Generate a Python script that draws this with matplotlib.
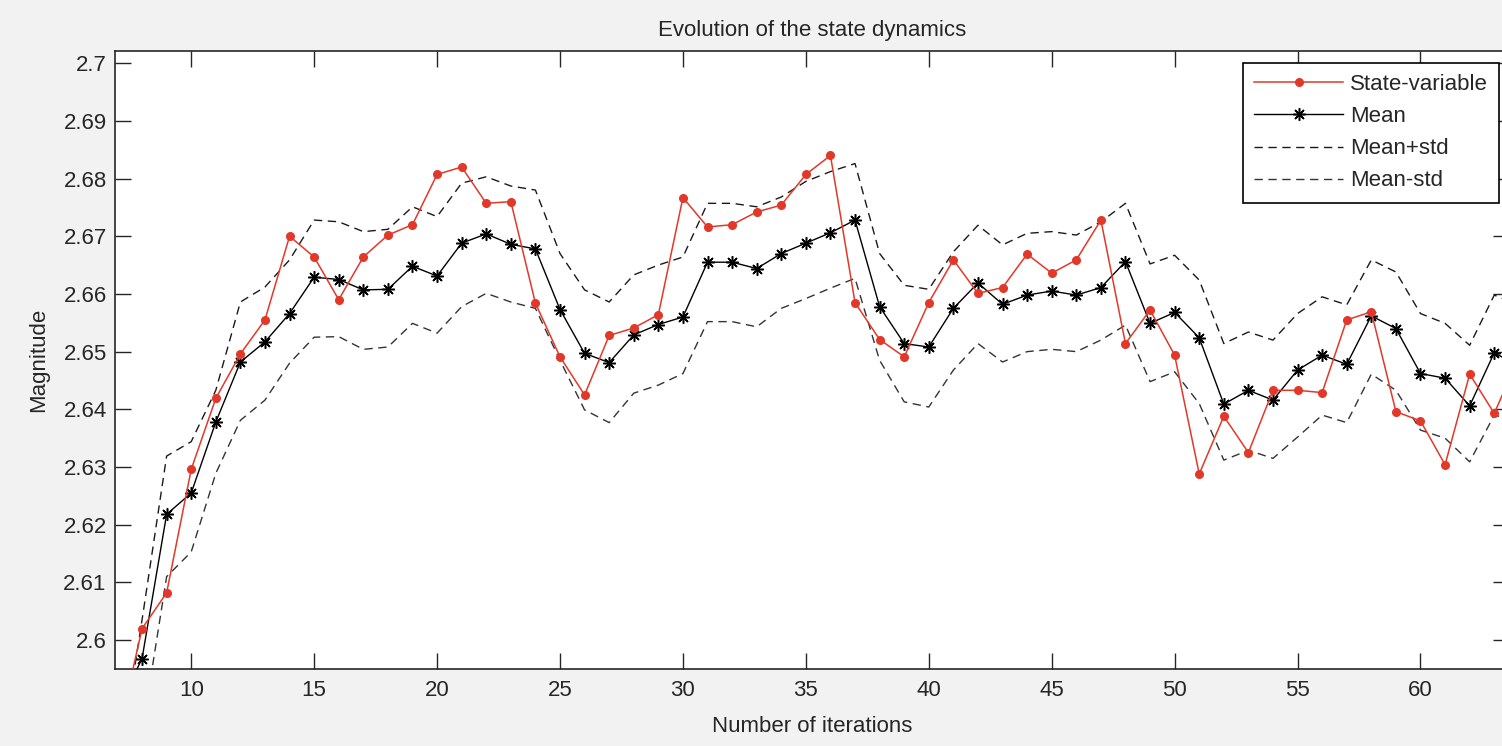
import numpy as np
import matplotlib
matplotlib.use("Agg")
import matplotlib.pyplot as plt
from matplotlib.ticker import FuncFormatter

plt.rcParams['font.family'] = ['Liberation Sans', 'DejaVu Sans']

##### data #####
iterations = list(range(7, 65))

state_var = [2.583, 2.602, 2.6082, 2.6296, 2.6419, 2.6496, 2.6555, 2.6700, 2.6664, 2.6590,
             2.6664, 2.6702, 2.6720, 2.6807, 2.6820, 2.6757, 2.6760, 2.6584, 2.6491, 2.6425,
             2.6528, 2.6541, 2.6564, 2.6767, 2.6716, 2.6720, 2.6742, 2.6754, 2.6807, 2.6840,
             2.6585, 2.6521, 2.6491, 2.6585, 2.6659, 2.6601, 2.6611, 2.6669, 2.6636, 2.6659,
             2.6728, 2.6514, 2.6572, 2.6494, 2.6288, 2.6388, 2.6325, 2.6433, 2.6433, 2.6429,
             2.6555, 2.6569, 2.6396, 2.6380, 2.6304, 2.6461, 2.6393, 2.6490]

mean_vals = [2.588, 2.5968, 2.6218, 2.6255, 2.6378, 2.6482, 2.6517, 2.6566, 2.6629, 2.6625,
             2.6607, 2.6608, 2.6648, 2.6631, 2.6688, 2.6704, 2.6686, 2.6678, 2.6573, 2.6497,
             2.6481, 2.6529, 2.6547, 2.6560, 2.6655, 2.6655, 2.6644, 2.6670, 2.6688, 2.6706,
             2.6728, 2.6578, 2.6514, 2.6508, 2.6575, 2.6619, 2.6582, 2.6598, 2.6605, 2.6598,
             2.6611, 2.6656, 2.6549, 2.6568, 2.6524, 2.6409, 2.6433, 2.6416, 2.6468, 2.6494,
             2.6478, 2.6562, 2.6540, 2.6462, 2.6454, 2.6406, 2.6498, 2.6475]

mean_plus = [2.576, 2.6035, 2.6319, 2.6344, 2.6433, 2.6586, 2.6612, 2.6659, 2.6728, 2.6725,
             2.6708, 2.6712, 2.6751, 2.6734, 2.6792, 2.6803, 2.6787, 2.6780, 2.6670, 2.6607,
             2.6586, 2.6633, 2.6650, 2.6664, 2.6757, 2.6757, 2.6751, 2.6768, 2.6795, 2.6812,
             2.6826, 2.6670, 2.6615, 2.6608, 2.6673, 2.6719, 2.6685, 2.6705, 2.6708, 2.6702,
             2.6725, 2.6757, 2.6652, 2.6667, 2.6624, 2.6514, 2.6534, 2.6520, 2.6566, 2.6595,
             2.6581, 2.6659, 2.6638, 2.6566, 2.6549, 2.6511, 2.6598, 2.6580]

mean_minus = [2.570, 2.584, 2.6110, 2.6153, 2.6289, 2.6381, 2.6416, 2.6480, 2.6525, 2.6526,
              2.6504, 2.6508, 2.6549, 2.6532, 2.6578, 2.6601, 2.6586, 2.6575, 2.6485, 2.6399,
              2.6377, 2.6428, 2.6442, 2.6462, 2.6552, 2.6552, 2.6543, 2.6575, 2.6592, 2.6610,
              2.6627, 2.6485, 2.6413, 2.6404, 2.6468, 2.6514, 2.6482, 2.6500, 2.6504, 2.6500,
              2.6520, 2.6546, 2.6448, 2.6465, 2.6410, 2.6312, 2.6329, 2.6315, 2.6352, 2.6390,
              2.6377, 2.6461, 2.6433, 2.6364, 2.6350, 2.6309, 2.6390, 2.6380]

xticks = list(range(10, 65, 5))
yticks = [2.60, 2.61, 2.62, 2.63, 2.64, 2.65, 2.66, 2.67, 2.68, 2.69, 2.70]

########################

fig = plt.figure(figsize=(15.02, 7.46), dpi=100, facecolor='#f2f2f2')
# right side of the axes runs slightly past the picture, as in the original
ax = fig.add_axes([115/1502, 77/746, (1509-115)/1502, (669-51)/746])
ax.set_facecolor('white')

ax.plot(iterations, state_var, color='#e2382a', lw=1.1, marker='o', ms=5.5,
        label='State-variable', zorder=4)
ax.plot(iterations, mean_vals, color='black', lw=1.0, marker=(8, 2, 0), ms=9,
        mew=1.1, label='Mean', zorder=3)
ax.plot(iterations, mean_plus, color='#1a1a1a', lw=1.0, dashes=(6, 4), label='Mean+std')
ax.plot(iterations, mean_minus, color='#333333', lw=1.0, dashes=(6, 4), label='Mean-std')

ax.set_xlim(6.9, 63.6)
ax.set_ylim(2.595, 2.7021)
ax.set_xticks(xticks)
ax.set_yticks(yticks)
ax.yaxis.set_major_formatter(FuncFormatter(lambda y, _: '{:g}'.format(round(y, 2))))

ax.tick_params(direction='in', length=11.5, width=1.0, top=True, right=True,
               labelsize=16, labelcolor='#262626', color='#262626')
ax.tick_params(axis='y', pad=6)
ax.tick_params(axis='x', pad=8)
for s in ax.spines.values():
    s.set_linewidth(1.2)
    s.set_color('#262626')

ax.set_title('Evolution of the state dynamics', fontsize=16, color='#262626', pad=11)
ax.set_xlabel('Number of iterations', fontsize=16, color='#262626', labelpad=11)
ax.set_ylabel('Magnitude', fontsize=16, color='#262626', labelpad=10)

leg = ax.legend(loc='upper right', bbox_to_anchor=(1499/1502, (746-63)/746),
                bbox_transform=fig.transFigure, borderaxespad=0, fancybox=False,
                framealpha=1, edgecolor='black', fontsize=16, handlelength=4.0,
                handletextpad=0.3, labelspacing=0.5, borderpad=0.5)
leg.get_frame().set_linewidth(1.2)
for t in leg.get_texts():
    t.set_color('#262626')

fig.savefig('out.png', dpi=100, facecolor=fig.get_facecolor())
